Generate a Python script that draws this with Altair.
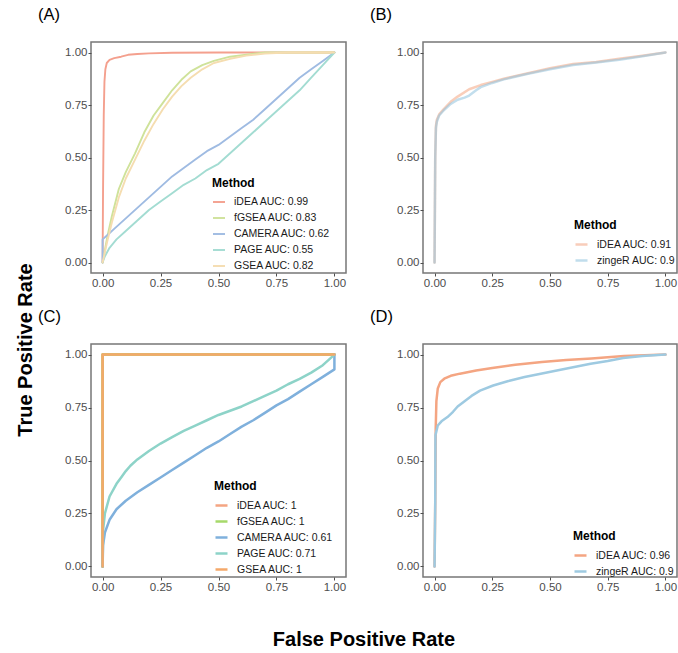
import altair as alt
import pandas as pd

FONT = "Liberation Sans"
TICKS = [0, 0.25, 0.5, 0.75, 1.0]

# ---------------- Panel A ----------------
a_labels = ["iDEA AUC: 0.99", "fGSEA AUC: 0.83", "CAMERA AUC: 0.62", "PAGE AUC: 0.55", "GSEA AUC: 0.82"]
a_colors = ["#F4A08E", "#CFE29A", "#9FBBE2", "#A3DCD2", "#F5DDB0"]
a_idea_fpr = [0.0, 0.002, 0.005, 0.008, 0.012, 0.018, 0.03, 0.05, 0.08, 0.11, 0.15, 0.2, 0.3, 0.5, 1.0]
a_idea_tpr = [0.0, 0.35, 0.7, 0.86, 0.92, 0.95, 0.965, 0.973, 0.98, 0.989, 0.993, 0.996, 0.999, 1.0, 1.0]
a_fgsea_fpr = [0, 0.01, 0.02, 0.04, 0.07, 0.1, 0.14, 0.18, 0.22, 0.26, 0.3, 0.34, 0.38, 0.43, 0.48, 0.55, 0.62, 0.7, 1.0]
a_fgsea_tpr = [0, 0.06, 0.12, 0.22, 0.35, 0.43, 0.52, 0.62, 0.7, 0.76, 0.82, 0.87, 0.91, 0.94, 0.96, 0.98, 0.99, 1.0, 1.0]
a_camera_fpr = [0, 0, 0.02, 0.05, 0.1, 0.15, 0.2, 0.25, 0.3, 0.35, 0.4, 0.45, 0.5, 0.55, 0.6, 0.65, 0.7, 0.75, 0.8, 0.85, 0.9, 0.95, 1.0]
a_camera_tpr = [0, 0.11, 0.13, 0.16, 0.21, 0.26, 0.31, 0.36, 0.41, 0.45, 0.49, 0.53, 0.56, 0.6, 0.64, 0.68, 0.73, 0.78, 0.83, 0.88, 0.92, 0.96, 1.0]
a_page_fpr = [0, 0.01, 0.03, 0.06, 0.1, 0.15, 0.2, 0.25, 0.3, 0.35, 0.4, 0.45, 0.5, 0.55, 0.6, 0.65, 0.7, 0.75, 0.8, 0.85, 0.9, 0.95, 1.0]
a_page_tpr = [0, 0.03, 0.07, 0.11, 0.15, 0.2, 0.25, 0.29, 0.33, 0.37, 0.4, 0.44, 0.47, 0.52, 0.57, 0.62, 0.67, 0.72, 0.77, 0.82, 0.88, 0.94, 1.0]
a_gsea_fpr = [0, 0.01, 0.02, 0.04, 0.07, 0.1, 0.14, 0.18, 0.22, 0.26, 0.3, 0.34, 0.38, 0.43, 0.48, 0.55, 0.62, 0.7, 0.8, 1.0]
a_gsea_tpr = [0, 0.05, 0.1, 0.19, 0.31, 0.4, 0.49, 0.58, 0.66, 0.73, 0.79, 0.84, 0.88, 0.92, 0.95, 0.97, 0.985, 0.995, 1.0, 1.0]

# ---------------- Panel B ----------------
b_labels = ["iDEA AUC: 0.91", "zingeR AUC: 0.9"]
b_colors = ["#F4A582", "#8FC3DE"]
b_idea_fpr = [0, 0.003, 0.006, 0.01, 0.02, 0.04, 0.07, 0.1, 0.15, 0.2, 0.25, 0.3, 0.4, 0.5, 0.6, 0.7, 0.8, 0.9, 1.0]
b_idea_tpr = [0, 0.5, 0.65, 0.68, 0.705, 0.73, 0.765, 0.79, 0.825, 0.845, 0.86, 0.875, 0.9, 0.925, 0.945, 0.955, 0.97, 0.985, 1.0]
b_zinger_fpr = [0, 0.003, 0.006, 0.01, 0.02, 0.04, 0.07, 0.1, 0.13, 0.15, 0.18, 0.2, 0.25, 0.3, 0.4, 0.5, 0.6, 0.7, 0.8, 0.9, 1.0]
b_zinger_tpr = [0, 0.5, 0.64, 0.67, 0.7, 0.725, 0.755, 0.775, 0.785, 0.795, 0.82, 0.835, 0.855, 0.872, 0.898, 0.92, 0.94, 0.952, 0.965, 0.982, 1.0]

# ---------------- Panel C ----------------
c_labels = ["iDEA AUC: 1", "fGSEA AUC: 1", "CAMERA AUC: 0.61", "PAGE AUC: 0.71", "GSEA AUC: 1"]
c_colors = ["#F4A582", "#A6D96A", "#7FB0DC", "#8DD3C8", "#F4A86A"]
c_idea_fpr = [0, 0, 1.0]
c_idea_tpr = [0, 1.0, 1.0]
c_fgsea_fpr = [0, 0, 1.0]
c_fgsea_tpr = [0, 1.0, 1.0]
c_camera_fpr = [0, 0.002, 0.01, 0.03, 0.06, 0.1, 0.15, 0.2, 0.25, 0.3, 0.35, 0.4, 0.45, 0.5, 0.55, 0.6, 0.65, 0.7, 0.75, 0.8, 0.85, 0.9, 0.95, 1.0, 1.0]
c_camera_tpr = [0, 0.1, 0.16, 0.22, 0.27, 0.31, 0.35, 0.385, 0.42, 0.455, 0.49, 0.525, 0.56, 0.59, 0.625, 0.66, 0.69, 0.725, 0.76, 0.79, 0.825, 0.86, 0.895, 0.93, 1.0]
c_page_fpr = [0, 0.002, 0.01, 0.03, 0.06, 0.08, 0.1, 0.12, 0.15, 0.2, 0.25, 0.3, 0.35, 0.4, 0.45, 0.5, 0.55, 0.6, 0.65, 0.7, 0.75, 0.8, 0.85, 0.9, 0.95, 0.98, 1.0]
c_page_tpr = [0, 0.17, 0.25, 0.33, 0.39, 0.42, 0.45, 0.475, 0.505, 0.545, 0.58, 0.61, 0.64, 0.665, 0.69, 0.715, 0.735, 0.755, 0.78, 0.805, 0.83, 0.86, 0.885, 0.915, 0.95, 0.98, 1.0]
c_gsea_fpr = [0, 0, 1.0]
c_gsea_tpr = [0, 1.0, 1.0]

# ---------------- Panel D ----------------
d_labels = ["iDEA AUC: 0.96", "zingeR AUC: 0.9"]
d_colors = ["#F4A582", "#9ECAE1"]
d_idea_fpr = [0, 0.003, 0.005, 0.008, 0.014, 0.025, 0.042, 0.07, 0.11, 0.18, 0.25, 0.35, 0.465, 0.57, 0.68, 0.82, 1.0]
d_idea_tpr = [0, 0.3, 0.65, 0.78, 0.84, 0.87, 0.886, 0.9, 0.91, 0.925, 0.937, 0.952, 0.965, 0.975, 0.982, 0.993, 1.0]
d_zinger_fpr = [0, 0.003, 0.004, 0.014, 0.03, 0.056, 0.08, 0.1, 0.13, 0.16, 0.197, 0.254, 0.32, 0.39, 0.46, 0.535, 0.6, 0.676, 0.75, 0.817, 0.9, 1.0]
d_zinger_tpr = [0, 0.3, 0.62, 0.665, 0.685, 0.705, 0.73, 0.755, 0.78, 0.805, 0.83, 0.854, 0.875, 0.894, 0.91, 0.926, 0.94, 0.957, 0.97, 0.984, 0.993, 1.0]


def make_df(labels, series):
    rows = []
    for lab, (fx, ty) in zip(labels, series):
        for i, (f, t) in enumerate(zip(fx, ty)):
            rows.append({"method": lab, "fpr": f, "tpr": t, "idx": i})
    return pd.DataFrame(rows)


def axis():
    return alt.Axis(values=TICKS, format=".2f", title=None, labelFlush=False, labelOverlap=False,
                    grid=False, domain=False, ticks=True, tickColor="#4d4d4d", tickSize=3, tickWidth=1,
                    labelFont=FONT, labelFontSize=11.5, labelColor="#4d4d4d", labelPadding=1)


def panel(labels, colors, series, tag, w, h, lx, ly, sw, op, extra=None):
    df = make_df(labels, series)
    scale = alt.Scale(domain=[-0.05, 1.05], nice=False, zero=False)
    line = alt.Chart(df).mark_line(strokeWidth=sw, opacity=op, strokeCap="round", strokeJoin="round").encode(
        x=alt.X("fpr:Q", scale=scale, axis=axis()),
        y=alt.Y("tpr:Q", scale=scale, axis=axis()),
        color=alt.Color("method:N", scale=alt.Scale(domain=labels, range=colors),
                        legend=alt.Legend(title="Method", orient="none", legendX=lx, legendY=ly,
                                          direction="vertical", symbolType="stroke", symbolSize=144,
                                          symbolStrokeWidth=sw, symbolOpacity=op,
                                          labelFont=FONT, labelFontSize=10.5, labelColor="#1a1a1a",
                                          titleFont=FONT, titleFontSize=12, titleFontWeight="bold",
                                          titleColor="black", rowPadding=3, labelOffset=8,
                                          padding=0, titlePadding=5, labelLimit=300)),
        order=alt.Order("idx:Q"),
    )
    lab = alt.Chart(pd.DataFrame({"t": [tag]})).mark_text(
        align="left", baseline="alphabetic", fontSize=16.5, font=FONT, color="black"
    ).encode(x=alt.value(-53), y=alt.value(-22), text="t:N")
    layers = [line, lab]
    if extra:
        layers += extra
    return alt.layer(*layers).properties(width=w, height=h)


ylab = alt.Chart(pd.DataFrame({"t": ["True Positive Rate"]})).mark_text(
    align="center", baseline="alphabetic", fontSize=20, fontWeight="bold", font=FONT, color="black", angle=270
).encode(x=alt.value(-59), y=alt.value(6), text="t:N")
xlab = alt.Chart(pd.DataFrame({"t": ["False Positive Rate"]})).mark_text(
    align="center", baseline="alphabetic", fontSize=20, fontWeight="bold", font=FONT, color="black"
).encode(x=alt.value(273), y=alt.value(302), text="t:N")

A = panel(a_labels, a_colors,
          [(a_idea_fpr, a_idea_tpr), (a_fgsea_fpr, a_fgsea_tpr), (a_camera_fpr, a_camera_tpr),
           (a_page_fpr, a_page_tpr), (a_gsea_fpr, a_gsea_tpr)],
          "(A)", 255, 231, 121, 136, 1.9, 1.0)
B = panel(b_labels, b_colors, [(b_idea_fpr, b_idea_tpr), (b_zinger_fpr, b_zinger_tpr)],
          "(B)", 254, 231, 151, 178, 2.5, 0.55)
C = panel(c_labels, c_colors,
          [(c_idea_fpr, c_idea_tpr), (c_fgsea_fpr, c_fgsea_tpr), (c_camera_fpr, c_camera_tpr),
           (c_page_fpr, c_page_tpr), (c_gsea_fpr, c_gsea_tpr)],
          "(C)", 255, 233, 123, 137, 2.5, 1.0, extra=[ylab, xlab])
D = panel(d_labels, d_colors, [(d_idea_fpr, d_idea_tpr), (d_zinger_fpr, d_zinger_tpr)],
          "(D)", 254, 233, 150, 187, 2.5, 1.0)

chart = alt.concat(A, B, C, D, columns=2, spacing={"row": 71, "column": 77}, bounds="flush").resolve_scale(
    color="independent", x="independent", y="independent"
).properties(
    padding={"left": 15, "top": 6, "right": 0, "bottom": 0},
    background="white",
).configure_view(
    stroke="#777777", strokeWidth=1.5
)

chart.save("out.html", embed_options={"renderer": "svg", "actions": False})
